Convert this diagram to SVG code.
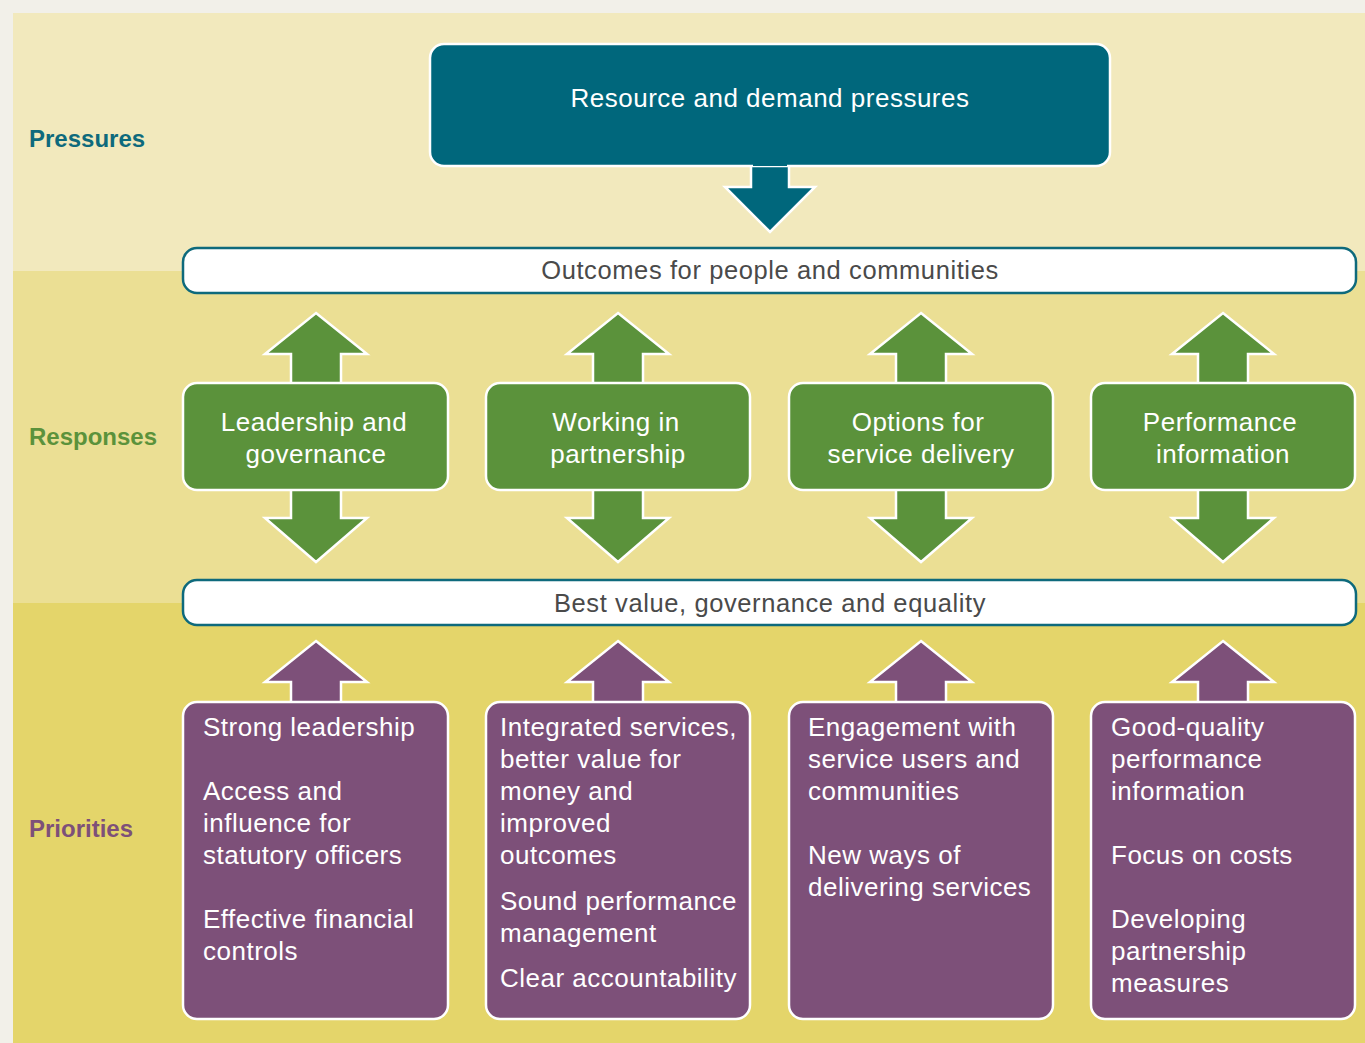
<svg xmlns="http://www.w3.org/2000/svg" width="1365" height="1043" viewBox="0 0 1365 1043">
<style>
.lbl{font-family:"Liberation Sans",Arial,sans-serif;font-weight:bold;font-size:24px}
.wt{font-family:"Liberation Sans",Arial,sans-serif;font-size:26px;fill:#fff;letter-spacing:0.5px}
.bar{fill:#fff;stroke:#0e6a7c;stroke-width:2.5}
.bt{font-family:"Liberation Sans",Arial,sans-serif;font-size:25.5px;fill:#4a4a4a;text-anchor:middle;letter-spacing:0.6px}
.g{fill:#5b923b;stroke:#fff;stroke-width:2.5}
.p{fill:#7d5079;stroke:#fff;stroke-width:2.5}
.mid{text-anchor:middle}
</style>
<defs>
<path id="upArr" d="M0,-1 L51,40 L25,40 L25,72 L-25,72 L-25,40 L-51,40 Z"/>
<path id="dnArr" d="M-25,-2 L25,-2 L25,28 L51,28 L0,72 L-51,28 L-25,28 Z"/>
</defs>
<rect x="0" y="0" width="1365" height="1043" fill="#f2f0e9"/>
<rect x="13" y="13" width="1352" height="258" fill="#f2e9bd"/>
<rect x="13" y="271" width="1352" height="332" fill="#ebdf94"/>
<rect x="13" y="603" width="1352" height="440" fill="#e4d56a"/>

<text class="lbl" x="29" y="147" fill="#0e6a7c">Pressures</text>
<text class="lbl" x="29" y="445" fill="#5b923b">Responses</text>
<text class="lbl" x="29" y="837" fill="#7d5079">Priorities</text>

<g id="connectors">
<path d="M751,164 L751,187 L725,187 L770,232 L815,187 L789,187 L789,164 Z" fill="#00677c" stroke="#fff" stroke-width="2.5"/>
<use href="#upArr" class="g" transform="translate(316,314)"/>
<use href="#upArr" class="g" transform="translate(618,314)"/>
<use href="#upArr" class="g" transform="translate(921,314)"/>
<use href="#upArr" class="g" transform="translate(1223,314)"/>
<use href="#dnArr" class="g" transform="translate(316,490)"/>
<use href="#dnArr" class="g" transform="translate(618,490)"/>
<use href="#dnArr" class="g" transform="translate(921,490)"/>
<use href="#dnArr" class="g" transform="translate(1223,490)"/>
<use href="#upArr" class="p" transform="translate(316,642)"/>
<use href="#upArr" class="p" transform="translate(618,642)"/>
<use href="#upArr" class="p" transform="translate(921,642)"/>
<use href="#upArr" class="p" transform="translate(1223,642)"/>
</g>

<g id="pressures">
<rect x="430" y="44" width="680" height="122" rx="14" fill="#00677c" stroke="#fff" stroke-width="2.5"/>
<path d="M753,164 L787,164" stroke="#00677c" stroke-width="4"/>
<text class="wt mid" x="770" y="107">Resource and demand pressures</text>
</g>

<g id="outcomes">
<rect class="bar" x="183" y="248" width="1173" height="45" rx="14"/>
<text class="bt" x="770" y="279">Outcomes for people and communities</text>
</g>

<g id="bestvalue">
<rect class="bar" x="183" y="580" width="1173" height="45" rx="14"/>
<text class="bt" x="770" y="612">Best value, governance and equality</text>
</g>

<g id="resp1">
<rect class="g" x="183" y="383" width="265" height="107" rx="14"/>
<text class="wt mid" x="314" y="431">Leadership and</text>
<text class="wt mid" x="316" y="463">governance</text>
</g>
<g id="resp2">
<rect class="g" x="486" y="383" width="264" height="107" rx="14"/>
<text class="wt mid" x="616" y="431">Working in</text>
<text class="wt mid" x="618" y="463">partnership</text>
</g>
<g id="resp3">
<rect class="g" x="789" y="383" width="264" height="107" rx="14"/>
<text class="wt mid" x="918" y="431">Options for</text>
<text class="wt mid" x="921" y="463">service delivery</text>
</g>
<g id="resp4">
<rect class="g" x="1091" y="383" width="264" height="107" rx="14"/>
<text class="wt mid" x="1220" y="431">Performance</text>
<text class="wt mid" x="1223" y="463">information</text>
</g>

<g id="prio1">
<rect class="p" x="183" y="702" width="265" height="317" rx="14"/>
<text class="wt" x="203" y="736">Strong leadership</text>
<text class="wt" x="203" y="800">Access and</text>
<text class="wt" x="203" y="832">influence for</text>
<text class="wt" x="203" y="864">statutory officers</text>
<text class="wt" x="203" y="928">Effective financial</text>
<text class="wt" x="203" y="960">controls</text>
</g>
<g id="prio2">
<rect class="p" x="486" y="702" width="264" height="317" rx="14"/>
<text class="wt" x="500" y="736">Integrated services,</text>
<text class="wt" x="500" y="768">better value for</text>
<text class="wt" x="500" y="800">money and</text>
<text class="wt" x="500" y="832">improved</text>
<text class="wt" x="500" y="864">outcomes</text>
<text class="wt" x="500" y="910">Sound performance</text>
<text class="wt" x="500" y="942">management</text>
<text class="wt" x="500" y="987">Clear accountability</text>
</g>
<g id="prio3">
<rect class="p" x="789" y="702" width="264" height="317" rx="14"/>
<text class="wt" x="808" y="736">Engagement with</text>
<text class="wt" x="808" y="768">service users and</text>
<text class="wt" x="808" y="800">communities</text>
<text class="wt" x="808" y="864">New ways of</text>
<text class="wt" x="808" y="896">delivering services</text>
</g>
<g id="prio4">
<rect class="p" x="1091" y="702" width="264" height="317" rx="14"/>
<text class="wt" x="1111" y="736">Good-quality</text>
<text class="wt" x="1111" y="768">performance</text>
<text class="wt" x="1111" y="800">information</text>
<text class="wt" x="1111" y="864">Focus on costs</text>
<text class="wt" x="1111" y="928">Developing</text>
<text class="wt" x="1111" y="960">partnership</text>
<text class="wt" x="1111" y="992">measures</text>
</g>
</svg>
